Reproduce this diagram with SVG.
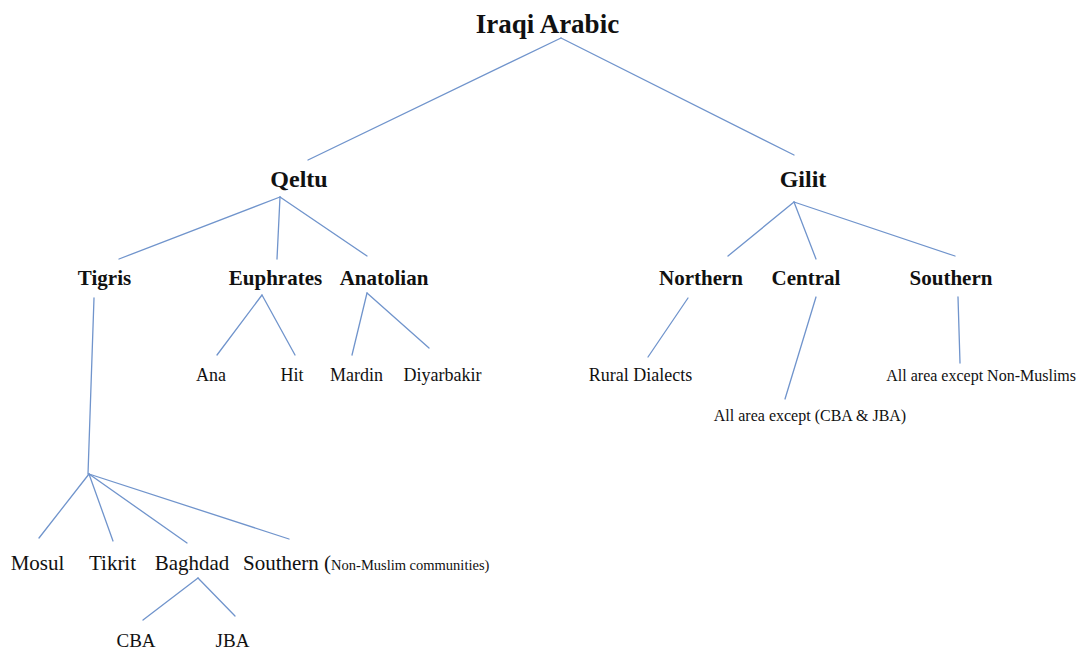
<svg xmlns="http://www.w3.org/2000/svg" width="1079" height="650" viewBox="0 0 1079 650">
<style>
text{font-family:"Liberation Serif","Times New Roman",serif;fill:#111;text-anchor:middle}
.t0{font-size:27px;font-weight:bold}
.t1{font-size:24px;font-weight:bold}
.t2{font-size:21px;font-weight:bold}
.lf{font-size:18px}
.sm{font-size:16px}
.mr{font-size:21px}
.cj{font-size:19px}
.tiny{font-size:14.5px}
#connectors line{stroke:#7094cc;stroke-width:1.3;stroke-linecap:round}
</style>
<rect width="1079" height="650" fill="#fff"/>
<g id="connectors">
<line x1="561" y1="38" x2="308" y2="160"/>
<line x1="561" y1="38" x2="794" y2="155"/>
<line x1="280" y1="197" x2="119" y2="259"/>
<line x1="280" y1="197" x2="277" y2="259"/>
<line x1="280" y1="197" x2="367" y2="256"/>
<line x1="794" y1="202" x2="728" y2="256"/>
<line x1="794" y1="202" x2="816" y2="259"/>
<line x1="794" y1="202" x2="955" y2="256"/>
<line x1="262" y1="295" x2="217" y2="355"/>
<line x1="262" y1="295" x2="295" y2="355"/>
<line x1="367" y1="293" x2="352" y2="355"/>
<line x1="367" y1="293" x2="429" y2="348"/>
<line x1="688" y1="298" x2="648" y2="357"/>
<line x1="816" y1="297" x2="785" y2="399"/>
<line x1="958" y1="297" x2="960" y2="363"/>
<line x1="94" y1="298" x2="88" y2="474"/>
<line x1="89" y1="474" x2="39" y2="538"/>
<line x1="89" y1="474" x2="113" y2="541"/>
<line x1="89" y1="474" x2="187" y2="543"/>
<line x1="89" y1="474" x2="289" y2="539"/>
<line x1="198" y1="578" x2="143" y2="620"/>
<line x1="198" y1="578" x2="235" y2="616"/>
</g>
<g id="iraqi-arabic"><text class="t0" x="547.5" y="33">Iraqi Arabic</text></g>
<g id="qeltu"><text class="t1" x="299" y="187">Qeltu</text></g>
<g id="gilit"><text class="t1" x="803" y="187">Gilit</text></g>
<g id="tigris"><text class="t2" x="104.5" y="285">Tigris</text></g>
<g id="euphrates"><text class="t2" x="275.5" y="285">Euphrates</text></g>
<g id="anatolian"><text class="t2" x="384" y="285">Anatolian</text></g>
<g id="northern"><text class="t2" x="701" y="285">Northern</text></g>
<g id="central"><text class="t2" x="806" y="285">Central</text></g>
<g id="southern-gilit"><text class="t2" x="951" y="285">Southern</text></g>
<g id="ana"><text class="lf" x="211" y="381">Ana</text></g>
<g id="hit"><text class="lf" x="292" y="381">Hit</text></g>
<g id="mardin"><text class="lf" x="356.5" y="381">Mardin</text></g>
<g id="diyarbakir"><text class="lf" x="442.5" y="381">Diyarbakir</text></g>
<g id="rural-dialects"><text class="lf" x="640.5" y="381">Rural Dialects</text></g>
<g id="all-area-cba-jba"><text class="sm" x="810" y="421">All area except (CBA &amp; JBA)</text></g>
<g id="all-area-non-muslims"><text class="sm" x="1076" y="381" style="text-anchor:end">All area except Non-Muslims</text></g>
<g id="mosul"><text class="mr" x="37.5" y="570">Mosul</text></g>
<g id="tikrit"><text class="mr" x="112.5" y="570">Tikrit</text></g>
<g id="baghdad"><text class="mr" x="192" y="570">Baghdad</text></g>
<g id="southern-tigris"><text class="mr" x="243" y="570" style="text-anchor:start">Southern <tspan>(</tspan><tspan class="tiny">Non-Muslim communities)</tspan></text></g>
<g id="cba"><text class="cj" x="136" y="647">CBA</text></g>
<g id="jba"><text class="cj" x="232.5" y="647">JBA</text></g>
</svg>
